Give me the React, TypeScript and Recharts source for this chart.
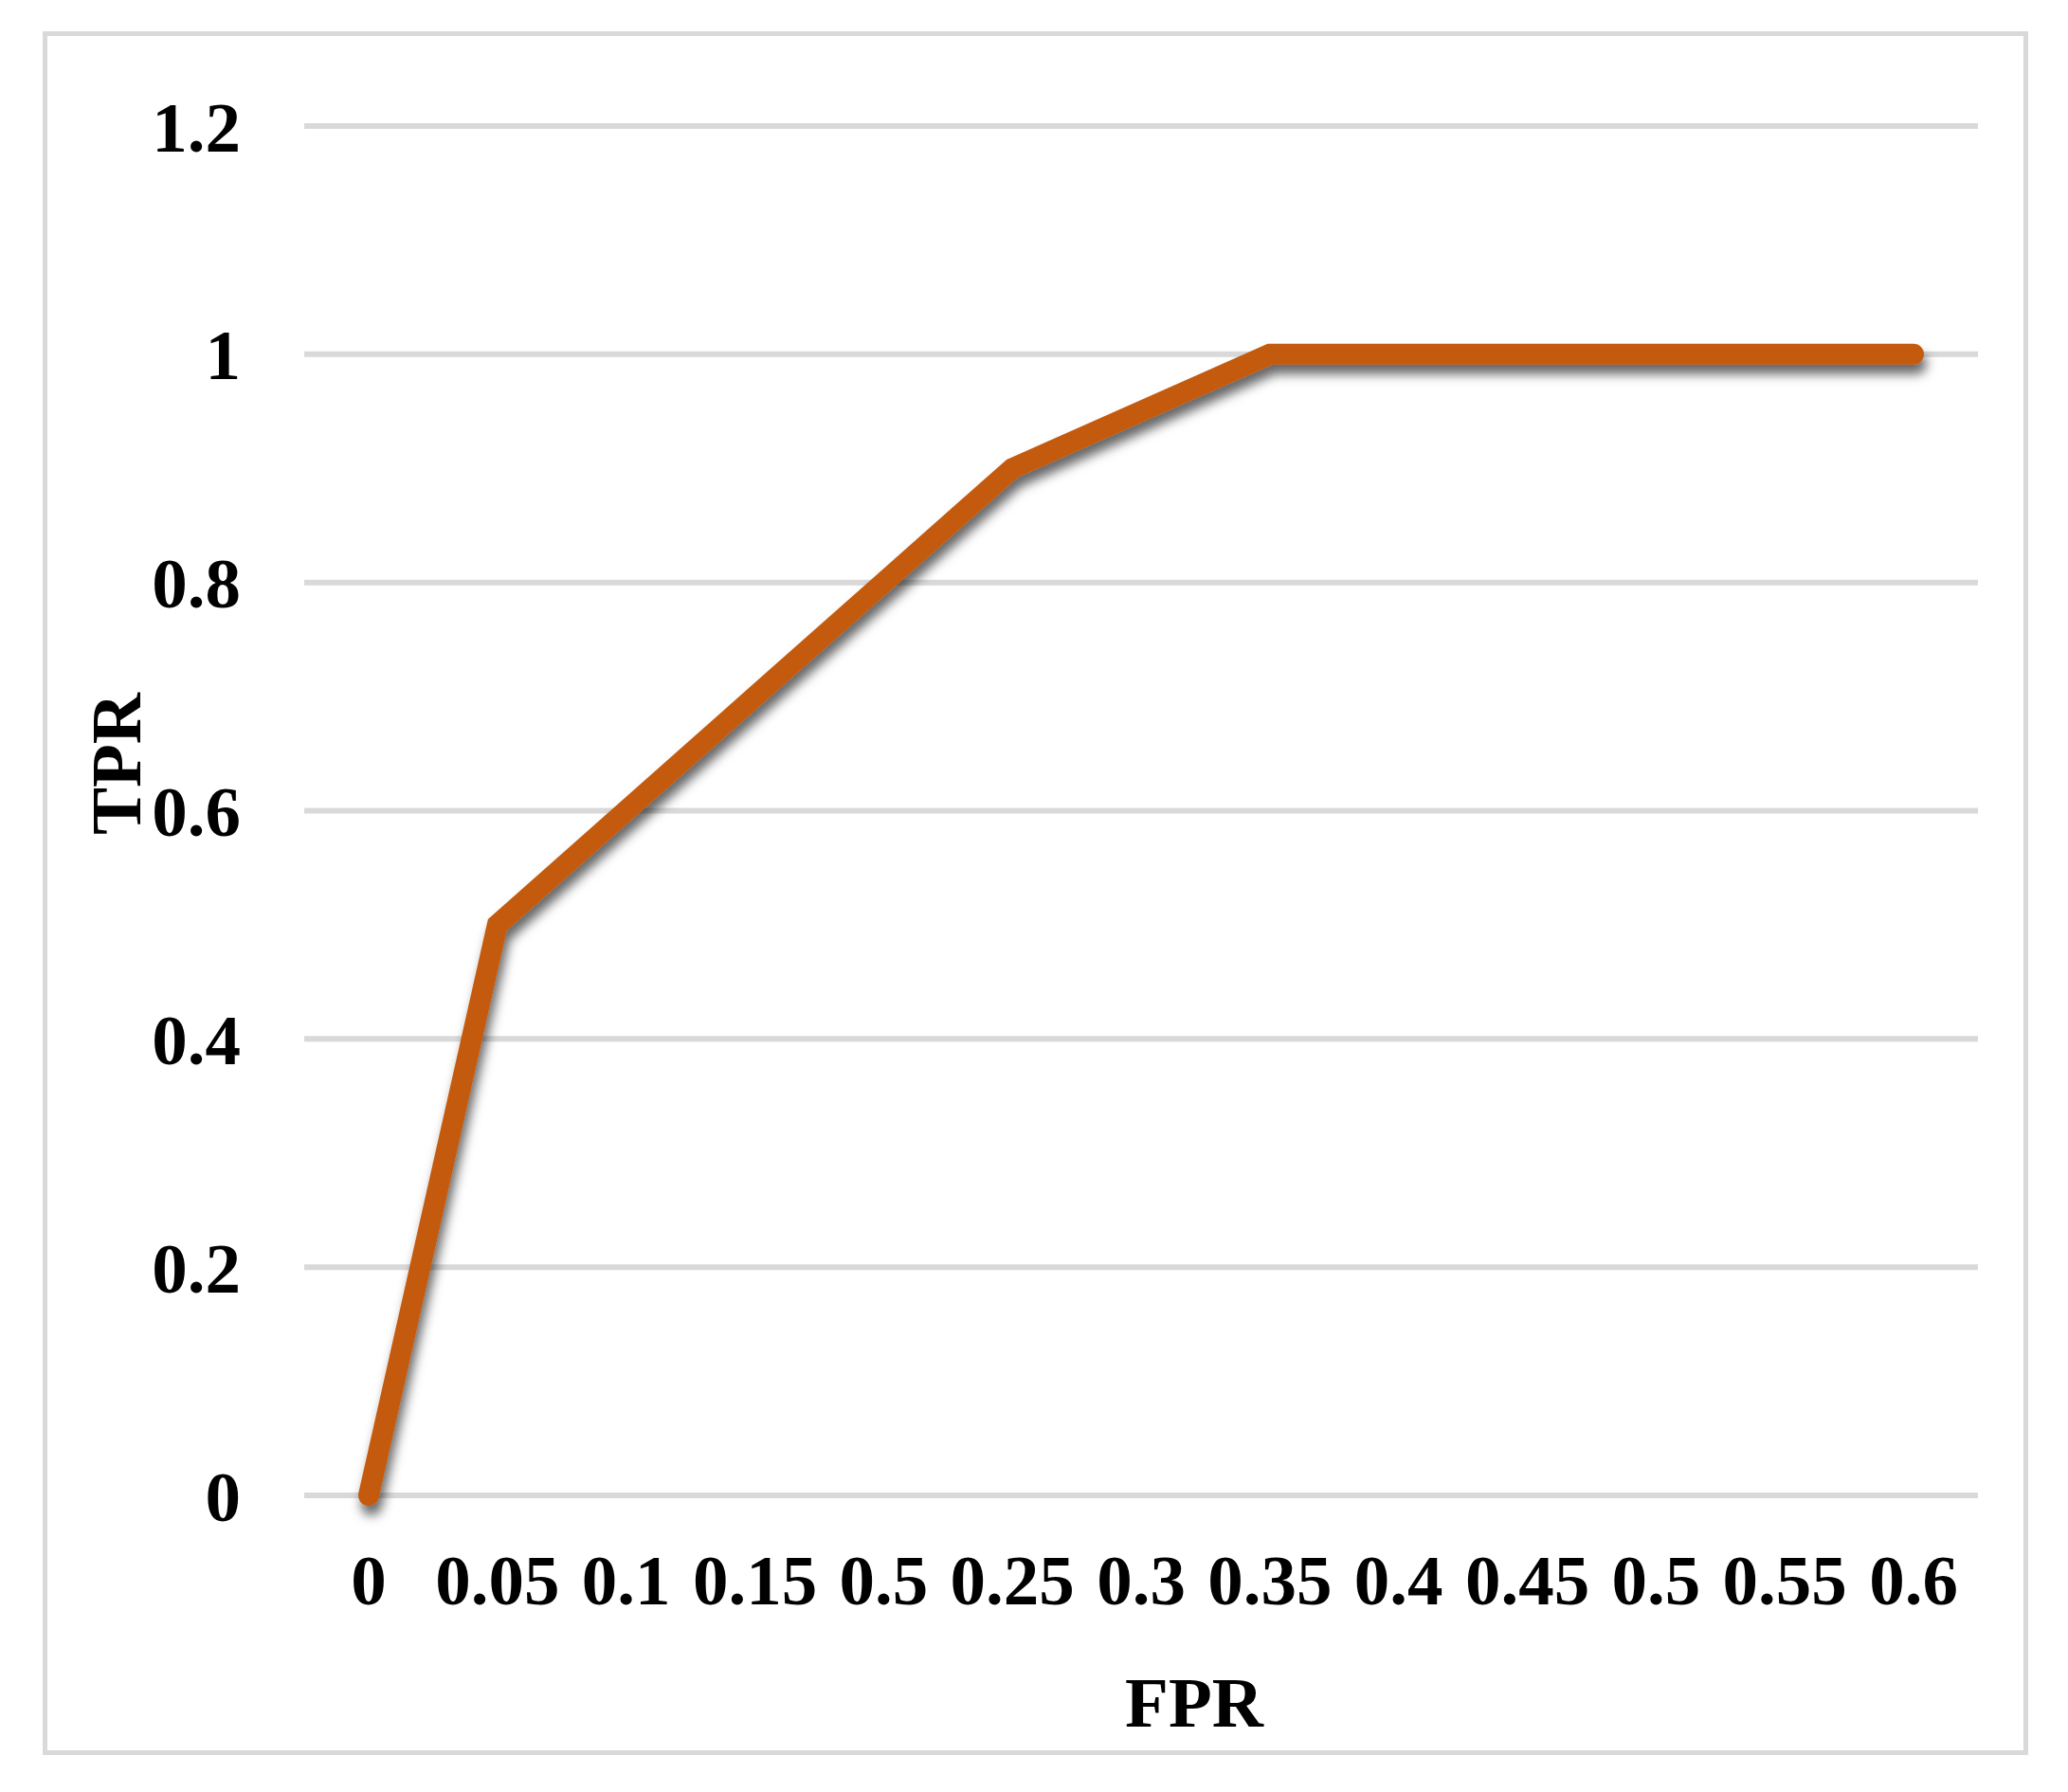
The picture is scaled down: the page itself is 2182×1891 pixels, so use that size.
import { LineChart, Line, XAxis, YAxis, CartesianGrid } from 'recharts'

const fprLabels = ['0', '0.05', '0.1', '0.15', '0.5', '0.25', '0.3', '0.35', '0.4', '0.45', '0.5', '0.55', '0.6']
const tprValues = [0, 0.5, 0.6, 0.7, 0.8, 0.9, 0.95, 1, 1, 1, 1, 1, 1]
const yTicks = [0, 0.2, 0.4, 0.6, 0.8, 1, 1.2]

const data = fprLabels.map((label, i) => ({ label, tpr: tprValues[i] }))

const font = '"Liberation Serif", "Times New Roman", serif'
const tickStyle = { fontSize: 75, fontWeight: 700, fontFamily: font, fill: '#000' }

function FprTitle({ viewBox }: any) {
  const { x, y, width } = viewBox
  return (
    <text x={x + width / 2 + 56} y={y + 244} textAnchor="middle" style={tickStyle}>
      FPR
    </text>
  )
}

function TprTitle({ viewBox }: any) {
  const cx = viewBox.x + 148
  const cy = viewBox.y + 673
  return (
    <text x={cx} y={cy} textAnchor="middle" transform={`rotate(-90, ${cx}, ${cy})`} style={tickStyle}>
      TPR
    </text>
  )
}

export default function App() {
  return (
    <div style={{ position: 'absolute', left: 0, top: 0, width: 2182, height: 1891, background: '#fff' }}>
      <div
        style={{
          position: 'absolute',
          left: 45,
          top: 33,
          width: 2095,
          height: 1819,
          border: '5px solid #d9d9d9',
          boxSizing: 'border-box',
        }}
      />
      <div style={{ position: 'absolute', left: 0, top: 0 }}>
        <LineChart width={2182} height={1891} data={data} margin={{ top: 133, right: 95, bottom: 0, left: 0 }}>
          <defs>
            <filter id="lineShadow" x="-10%" y="-10%" width="120%" height="130%">
              <feDropShadow dx="3" dy="10" stdDeviation="6" floodColor="#000" floodOpacity="0.6" />
            </filter>
          </defs>
          <CartesianGrid vertical={false} stroke="#d9d9d9" strokeWidth={6} />
          <XAxis
            dataKey="label"
            interval={0}
            allowDuplicatedCategory
            axisLine={false}
            tickLine={false}
            tickSize={0}
            tickMargin={62}
            height={313}
            padding={{ left: 68, right: 68 }}
            tick={tickStyle}
            label={<FprTitle />}
          />
          <YAxis
            domain={[0, 1.2]}
            ticks={yTicks}
            tickFormatter={(v: number) => String(v)}
            axisLine={false}
            tickLine={false}
            tickSize={0}
            tickMargin={67}
            width={321}
            tick={tickStyle}
            label={<TprTitle />}
          />
          <Line
            type="linear"
            dataKey="tpr"
            stroke="#c45a11"
            strokeWidth={22}
            strokeLinecap="round"
            strokeLinejoin="miter"
            dot={false}
            activeDot={false}
            filter="url(#lineShadow)"
            isAnimationActive={false}
          />
        </LineChart>
      </div>
    </div>
  )
}
